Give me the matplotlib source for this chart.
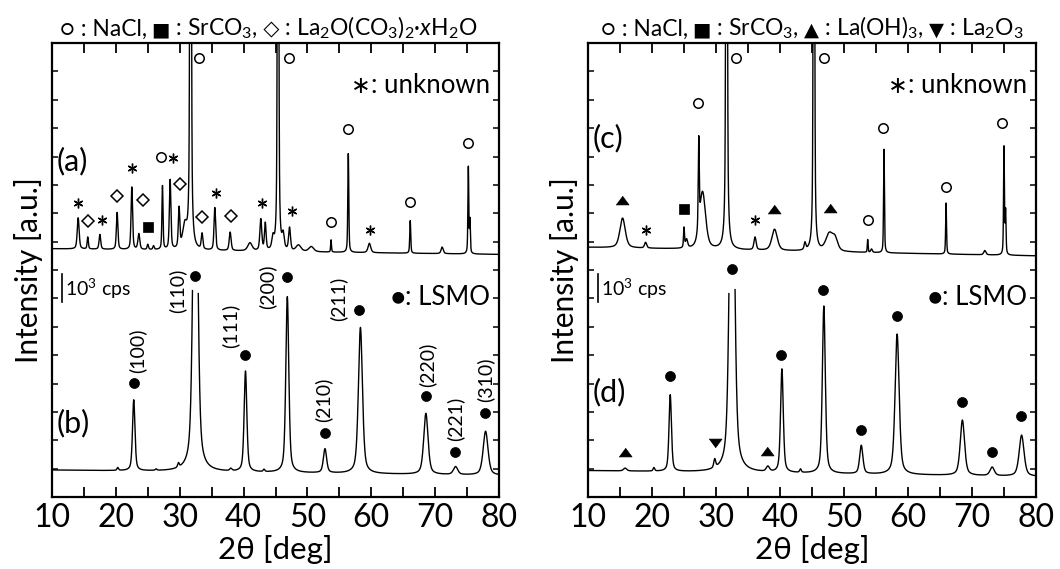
import numpy as np
import matplotlib.pyplot as plt
from matplotlib.ticker import MultipleLocator, NullFormatter
from matplotlib.offsetbox import TextArea, HPacker, AnchoredOffsetbox

plt.rcParams['font.family'] = ['Lato', 'DejaVu Sans']
plt.rcParams['mathtext.fontset'] = 'custom'
plt.rcParams['mathtext.rm'] = 'Lato'
plt.rcParams['mathtext.it'] = 'Lato:italic'
plt.rcParams['mathtext.default'] = 'regular'

# 2theta grid [deg]
tt = np.linspace(10, 80, 4001)

# (a) as-dried powder: peak centre [deg], height [cps], FWHM [deg]
a_pos = [14.1, 15.6, 17.5, 20.2, 22.5, 23.6, 25.0, 25.9, 27.3, 28.5, 29.9, 30.8,
         31.7, 33.5, 35.5, 37.9, 41.0, 42.7, 43.4, 44.6, 45.4, 46.2, 47.2, 48.6,
         50.6, 53.7, 56.4, 59.7, 66.1, 71.1, 75.2, 75.45]
a_hgt = [1100, 420, 520, 1300, 2200, 550, 180, 130, 2250, 2450, 1400, 800,
         40000, 550, 1500, 650, 280, 1100, 950, 400, 30000, 500, 800, 220,
         180, 430, 3500, 330, 1150, 230, 3050, 1150]
a_fwhm = [0.35, 0.22, 0.3, 0.28, 0.28, 0.35, 0.25, 0.25, 0.2, 0.28, 0.28, 0.8,
          0.2, 0.3, 0.3, 0.35, 0.8, 0.35, 0.3, 0.4, 0.2, 0.4, 0.35, 0.9,
          0.9, 0.15, 0.18, 0.5, 0.18, 0.4, 0.16, 0.16]
a_bg = [8750, 8550]

# (b) after annealing
b_pos = [20.3, 22.8, 26.3, 29.8, 32.45, 38.0, 40.3, 43.2, 46.85, 52.75, 58.3,
         68.55, 73.2, 77.9]
b_hgt = [100, 2500, 50, 150, 15000, 80, 3550, 80, 6200, 850, 5150, 2150, 280, 1550]
b_fwhm = [0.3, 0.45, 0.3, 0.3, 0.8, 0.4, 0.5, 0.3, 0.55, 0.6, 0.75, 0.8, 0.8, 0.9]
b_bg = [950, 760]
b_cut = 7290

# (c) as-dried powder, second route
c_pos = [15.4, 19.0, 25.0, 25.4, 27.3, 27.9, 31.65, 36.1, 39.15, 43.9, 45.3,
         47.7, 48.6, 53.7, 54.3, 56.25, 65.95, 72.0, 75.0, 75.25]
c_hgt = [1050, 200, 700, 300, 3100, 2000, 40000, 450, 750, 250, 30000,
         600, 400, 450, 120, 3650, 1800, 150, 3800, 1500]
c_fwhm = [1.0, 0.4, 0.18, 0.4, 0.18, 1.1, 0.2, 0.4, 1.0, 0.3, 0.2,
          1.3, 1.0, 0.14, 0.3, 0.16, 0.16, 0.4, 0.16, 0.16]
c_bg = [8800, 8500]

# (d) after annealing, second route
d_pos = [15.8, 20.3, 22.85, 29.8, 32.5, 38.1, 40.3, 43.2, 46.85, 52.7, 58.3,
         68.5, 73.15, 77.75]
d_hgt = [100, 120, 2700, 300, 15000, 180, 3650, 120, 5900, 1000, 4950, 1950, 300, 1450]
d_fwhm = [0.6, 0.3, 0.45, 0.35, 0.85, 0.6, 0.5, 0.3, 0.55, 0.6, 0.75, 0.8, 0.8, 0.9]
d_bg = [930, 720]
d_cut = 7460

# phase marks: (phase, 2theta, cps)
a_marks = [('unk', 14.02, 10360), ('la2o', 15.59, 9730), ('unk', 17.78, 9760),
           ('la2o', 20.23, 10610), ('unk', 22.53, 11590), ('la2o', 24.30, 10470),
           ('srco3', 25.08, 9520), ('nacl', 27.07, 11980), ('unk', 28.99, 11950),
           ('la2o', 30.04, 11030), ('nacl', 33.07, 15470), ('la2o', 33.54, 9870),
           ('unk', 35.63, 10710), ('la2o', 37.98, 9900), ('unk', 42.85, 10360),
           ('nacl', 47.07, 15470), ('unk', 47.6, 10080), ('nacl', 53.69, 9690),
           ('nacl', 56.40, 12970), ('unk', 59.80, 9410), ('nacl', 66.06, 10390),
           ('nacl', 75.19, 12480)]
b_marks = [('lsmo', 22.84, 4020), ('lsmo', 32.39, 7790), ('lsmo', 40.22, 5000),
           ('lsmo', 46.80, 7750), ('lsmo', 52.75, 2260), ('lsmo', 58.07, 6590),
           ('lsmo', 68.57, 3560), ('lsmo', 73.11, 1590), ('lsmo', 77.81, 2960)]
c_marks = [('laoh', 15.36, 10470), ('unk', 19.02, 9410), ('srco3', 25.0, 10150),
           ('nacl', 27.14, 13890), ('nacl', 33.12, 15470), ('nacl', 46.92, 15470),
           ('unk', 36.09, 9760), ('laoh', 39.11, 10150), ('laoh', 47.81, 10190),
           ('nacl', 53.70, 9760), ('nacl', 56.14, 13000), ('nacl', 65.94, 10930),
           ('nacl', 74.73, 13180)]
d_marks = [('laoh', 15.78, 1600), ('lsmo', 22.81, 4260), ('la2o3', 29.84, 1890),
           ('lsmo', 32.45, 8040), ('laoh', 38.02, 1630), ('lsmo', 40.16, 5000),
           ('lsmo', 46.77, 7300), ('lsmo', 52.66, 2360), ('lsmo', 58.23, 6380),
           ('lsmo', 68.39, 3360), ('lsmo', 73.08, 1600), ('lsmo', 77.66, 2870)]

# Miller indices of the perovskite reflections and where their labels sit
hkl = ['(100)', '(110)', '(111)', '(200)', '(210)', '(211)', '(220)', '(221)', '(310)']
hkl_x = [23.31, 29.55, 37.87, 43.65, 52.44, 54.82, 68.72, 73.11, 77.81]
hkl_y = [5150, 7250, 6030, 7400, 3420, 6970, 4650, 2750, 4120]

tri = [(-1, -0.675), (1, -0.675), (0, 0.675)]
tri_dn = [(-1, 0.675), (1, 0.675), (0, -0.675)]
styles = {
    'nacl': dict(marker='o', ms=6.8, mfc='white', mec='k', mew=1.1),
    'srco3': dict(marker='s', ms=7.5, mfc='k', mec='k', mew=0.5),
    'la2o': dict(marker='D', ms=6.4, mfc='white', mec='k', mew=1.1),
    'laoh': dict(marker=tri, ms=9.4, mfc='k', mec='k', mew=0.5),
    'la2o3': dict(marker=tri_dn, ms=9.4, mfc='k', mec='k', mew=0.5),
    'lsmo': dict(marker='o', ms=7.2, mfc='k', mec='k', mew=0.5),
    'unk': dict(marker=(6, 2, 0), ms=7.0, mfc='k', mec='k', mew=1.0),
}


def pattern(pos, hgt, fwhm, bg):
    y = bg[0] + (bg[1] - bg[0]) * (tt - 10) / 70
    for c, h, w in zip(pos, hgt, fwhm):
        u = (tt - c) / (w / 2)
        y = y + h * (0.5 / (1 + u**2) + 0.5 * np.exp(-np.log(2) * u**2))
    return y


def row(ax, pieces, anchor, loc):
    boxes = [TextArea(s, textprops=dict(fontsize=fs)) for s, fs in pieces]
    pack = HPacker(children=boxes, align='baseline', pad=0, sep=0)
    box = AnchoredOffsetbox(loc=loc, child=pack, pad=0, borderpad=0,
                            frameon=False, bbox_to_anchor=anchor,
                            bbox_transform=ax.transAxes)
    ax.add_artist(box)


def setup(ax):
    ax.set_xlim(10, 80)
    ax.set_ylim(0, 16000)
    ax.xaxis.set_major_locator(MultipleLocator(10))
    ax.xaxis.set_minor_locator(MultipleLocator(5))
    ax.yaxis.set_major_locator(MultipleLocator(1000))
    ax.yaxis.set_major_formatter(NullFormatter())
    ax.tick_params(axis='x', which='both', direction='in', top=True, length=7,
                   width=1.3, labelsize=23, pad=4)
    ax.tick_params(axis='y', direction='in', right=True, length=4, width=1.1)
    for s in ax.spines.values():
        s.set_linewidth(1.6)
    ax.set_xlabel('2θ [deg]', fontsize=22.5, labelpad=2)
    ax.set_ylabel('Intensity [a.u.]', fontsize=21.5, labelpad=3)
    # 1000 cps scale bar
    ax.plot([11.6, 11.6], [6870, 6870 + 1000], color='k', lw=1.2)
    ax.text(12.1, 7330, '10$^3$ cps', fontsize=14, va='center')
    row(ax, [('∗', 17), (': unknown', 18.5)], (0.98, 0.906), 'center right')
    row(ax, [('●', 17.5), (': LSMO', 18.5)], (0.98, 0.44), 'center right')


def marks(ax, items):
    for kind, x, y in items:
        ax.plot([x], [y], ls='none', **styles[kind])


fig = plt.figure(figsize=(10.6, 5.69), dpi=100)
ax1 = fig.add_axes([52 / 1060, 72 / 569, 447 / 1060, 454 / 569])
ax2 = fig.add_axes([588 / 1060, 72 / 569, 448 / 1060, 454 / 569])

for ax in (ax1, ax2):
    setup(ax)

ya = pattern(a_pos, a_hgt, a_fwhm, a_bg)
yb = pattern(b_pos, b_hgt, b_fwhm, b_bg)
yb[yb > b_cut] = np.nan
yc = pattern(c_pos, c_hgt, c_fwhm, c_bg)
yd = pattern(d_pos, d_hgt, d_fwhm, d_bg)
yd[yd > d_cut] = np.nan

ax1.plot(tt, ya, color='k', lw=1.0)
ax1.plot(tt, yb, color='k', lw=1.0)
ax2.plot(tt, yc, color='k', lw=1.0)
ax2.plot(tt, yd, color='k', lw=1.0)

marks(ax1, a_marks)
marks(ax1, b_marks)
marks(ax2, c_marks)
marks(ax2, d_marks)

for lab, x, y in zip(hkl, hkl_x, hkl_y):
    ax1.text(x, y, lab, rotation=90, fontsize=14, ha='center', va='center')

ax1.text(10.8, 11850, '(a)', fontsize=22, va='center')
ax1.text(10.8, 2600, '(b)', fontsize=22, va='center')
ax2.text(10.8, 12650, '(c)', fontsize=22, va='center')
ax2.text(10.8, 3700, '(d)', fontsize=22, va='center')

row(ax1, [('○', 16), (' : NaCl,', 16.5), (' ■', 14), (' : SrCO$_3$,', 16.5),
          (' ◇', 15), (' : La$_2$O(CO$_3$)$_2$·$\\it{x}$H$_2$O', 16.5)],
    (0.485, 1.004), 'lower center')
row(ax2, [('○', 16), (' : NaCl,', 16.5), (' ■', 14), (' : SrCO$_3$,', 16.5),
          (' ▲', 14), (' : La(OH)$_3$,', 16.5), (' ▼', 14), (' : La$_2$O$_3$', 16.5)],
    (0.5, 1.004), 'lower center')

fig.savefig('out.png', dpi=100)
